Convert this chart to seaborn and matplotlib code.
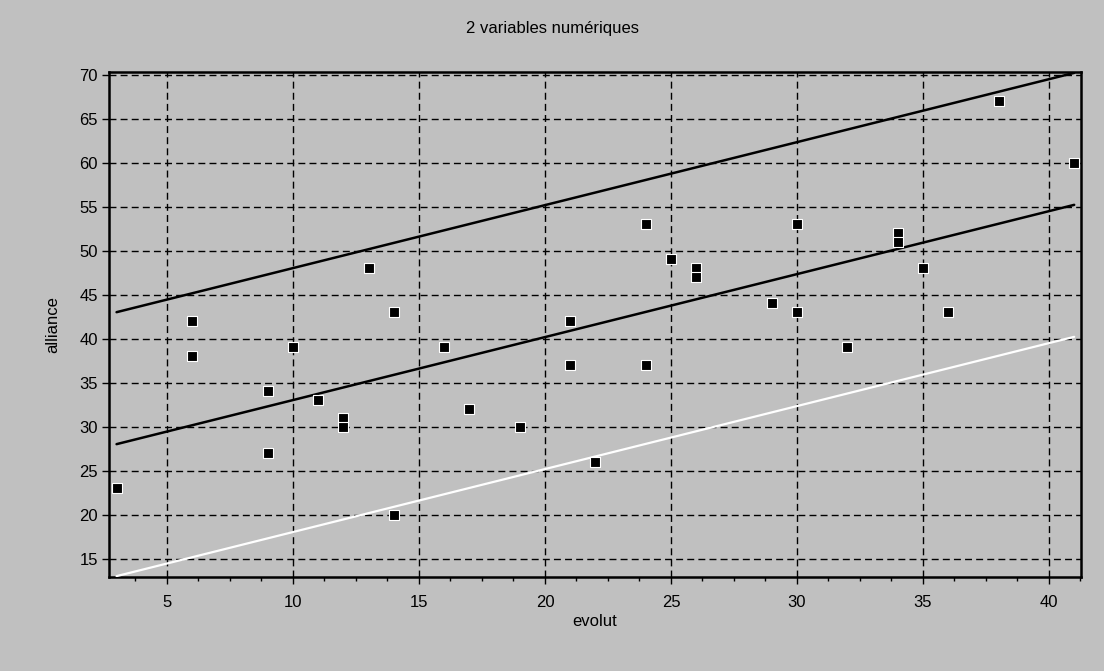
import matplotlib
matplotlib.use("Agg")
import matplotlib.pyplot as plt
import seaborn as sns
import pandas as pd
from matplotlib.ticker import MultipleLocator

# ---- data ----
evolut = [3, 6, 6, 9, 9, 10, 11, 12, 12, 13, 14, 14, 16, 17, 19, 21, 21, 22,
          24, 24, 25, 26, 26, 29, 30, 30, 32, 34, 34, 35, 36, 38, 41]
alliance = [23, 42, 38, 34, 27, 39, 33, 31, 30, 48, 43, 20, 39, 32, 30, 42, 37, 26,
            53, 37, 49, 48, 47, 44, 53, 43, 39, 52, 51, 48, 43, 67, 60]

line_x = [3, 41]
fit_y = [28.0, 55.2]
upper_y = [43.0, 70.2]
lower_y = [13.0, 40.2]

x_ticks = [5, 10, 15, 20, 25, 30, 35, 40]
y_ticks = [15, 20, 25, 30, 35, 40, 45, 50, 55, 60, 65, 70]

title = "2 variables numériques"
xlabel = "evolut"
ylabel = "alliance"

# ---- style ----
sns.set_theme(style="white")
plt.rcParams['font.family'] = ['Liberation Sans', 'DejaVu Sans']
bg = "#c0c0c0"

fig = plt.figure(figsize=(11.04, 6.71), dpi=100, facecolor=bg)
W, H = 1104, 671
left, right, top, bottom = 109, 1081, 72, 577
ax = fig.add_axes([left / W, 1 - bottom / H, (right - left) / W, (bottom - top) / H])
ax.set_facecolor(bg)

df = pd.DataFrame({"evolut": evolut, "alliance": alliance})
lines = pd.DataFrame({"x": line_x, "fit": fit_y, "up": upper_y, "lo": lower_y})

sns.lineplot(data=lines, x="x", y="up", ax=ax, color="black", lw=1.8, zorder=3)
sns.lineplot(data=lines, x="x", y="fit", ax=ax, color="black", lw=1.8, zorder=3)
sns.lineplot(data=lines, x="x", y="lo", ax=ax, color="white", lw=1.6, zorder=3)
sns.scatterplot(data=df, x="evolut", y="alliance", ax=ax, marker="s", s=62,
                color="black", edgecolor="white", linewidth=0.8, zorder=4,
                clip_on=False)

ax.set_xlim(2.7, 41.27)
ax.set_ylim(12.9, 70.3)
ax.set_xticks(x_ticks)
ax.set_yticks(y_ticks)
ax.xaxis.set_minor_locator(MultipleLocator(1.25))
ax.grid(True, which="major", color="black", linestyle=(0, (5, 3)), lw=1.0, zorder=1)
ax.set_axisbelow(True)

ax.tick_params(axis="both", which="major", direction="out", length=5, width=1,
               color="black", labelsize=12, labelcolor="black", pad=3,
               bottom=True, left=True)
ax.tick_params(axis="x", which="major", pad=8)
ax.tick_params(axis="x", which="minor", direction="out", length=3, width=1,
               color="black", bottom=True)

for s in ax.spines.values():
    s.set_visible(True)
    s.set_color("black")
    s.set_linewidth(1.8)

ax.set_xlabel(xlabel, fontsize=12, color="black", labelpad=3)
ax.set_ylabel(ylabel, fontsize=12, color="black", labelpad=14)
fig.text(0.5, 1 - 28 / H, title, ha="center", va="center", fontsize=12, color="black")

fig.savefig("out.png", dpi=100, facecolor=bg)
